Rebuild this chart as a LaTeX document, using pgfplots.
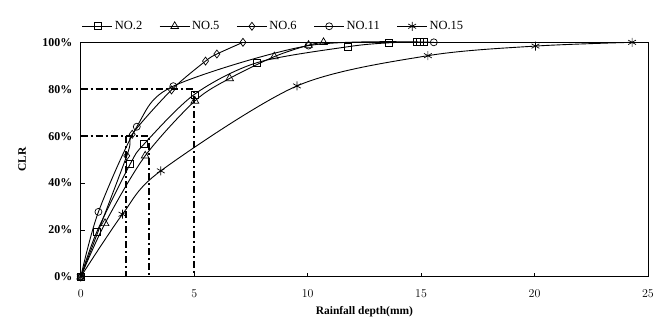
\documentclass[border=0pt]{standalone}
\usepackage{fontspec}
\setmainfont{Liberation Serif}
\usepackage{pgfplots}
\pgfplotsset{compat=1.18}
\begin{document}
\begin{tikzpicture}
\begin{axis}[
  scale only axis,
  width=567bp, height=234.4bp,
  xmin=0, xmax=25, ymin=0, ymax=100,
  axis x line*=bottom, axis y line*=left,
  axis line style={line width=1.1pt, -},
  xtick={0,5,10,15,20,25},
  ytick={0,20,40,60,80,100},
  yticklabels={0\%,20\%,40\%,60\%,80\%,100\%},
  tick align=inside,
  major tick length=4bp,
  tick style={black, line width=0.8pt},
  ticklabel style={font=\fontsize{12}{14}\selectfont\bfseries},
  xticklabel style={yshift=-9bp},
  yticklabel style={xshift=-5bp},
  xlabel={Rainfall depth(mm)},
  ylabel={CLR},
  label style={font=\fontsize{11.5}{13}\selectfont\bfseries},
  xlabel style={at={(axis description cs:0.5,-0.1507)}, anchor=center},
  ylabel style={at={(axis description cs:-0.1035,0.5)}, anchor=center},
  legend columns=5,
  legend style={draw=none, fill=none, at={(0.34,1.0)}, anchor=south, yshift=7bp,
    font=\fontsize{12.5}{14}\selectfont, column sep=0bp,
    /tikz/every even column/.append style={column sep=15bp}},
  legend image code/.code={\draw[mark repeat=2,mark phase=2] plot coordinates {(0bp,0bp) (15bp,0bp) (30bp,0bp)};},
  every axis plot/.append style={black, line width=0.9pt, mark options={solid, fill=white, line width=0.7pt}},
  clip=false,
]
\addplot[smooth, tension=0.5, mark=square, mark size=3.5bp] coordinates {
 (0,0) (0.71,19.2) (2.18,48.1) (2.79,56.6) (5.01,77.8) (7.76,91.3) (11.76,98.1) (13.6,99.8) (14.8,100) (14.95,100) (15.1,100)};
\addlegendentry{NO.2}
\addplot[smooth, tension=0.5, mark=triangle, mark size=4.5bp] coordinates {
 (0,0) (1.07,22.8) (2.84,51.6) (5.03,75) (6.56,84.6) (8.53,93.9) (10.04,98.8) (10.7,100)};
\addlegendentry{NO.5}
\addplot[smooth, tension=0.5, mark=diamond, mark size=4bp] coordinates {
 (0,0) (2.03,51.6) (2.27,60.8) (4.0,79.7) (5.5,92) (6.0,95) (7.15,100)};
\addlegendentry{NO.6}
\addplot[smooth, tension=0.5, mark=o, mark size=3.5bp] coordinates {
 (0,0) (0.78,27.7) (2.47,64) (4.08,81.3) (10.04,98.6) (15.56,100)};
\addlegendentry{NO.11}
\addplot[smooth, tension=0.5, mark=asterisk, mark size=4.5bp] coordinates {
 (0,0) (1.84,26.7) (3.53,45.2) (9.53,81.4) (15.3,94.3) (20.04,98.4) (24.3,100)};
\addlegendentry{NO.15}
\addplot[forget plot, no marks, line width=1.6pt, dash pattern=on 7bp off 3bp on 2bp off 3bp] coordinates {(0,80) (5,80) (5,0)};
\addplot[forget plot, no marks, line width=1.6pt, dash pattern=on 7bp off 3bp on 2bp off 3bp] coordinates {(0,60) (3,60) (3,0)};
\addplot[forget plot, no marks, line width=1.6pt, dash pattern=on 7bp off 3bp on 2bp off 3bp] coordinates {(2,60) (2,0)};
\draw[line width=0.6pt] (rel axis cs:0,1) -- (rel axis cs:1,1) -- (rel axis cs:1,0);
\coordinate (SW) at (rel axis cs:0,0);
\coordinate (NE) at (rel axis cs:1,1);
\end{axis}
\pgfresetboundingbox
\path[use as bounding box] ([shift={(-80.7bp,-52.3bp)}]SW) rectangle ([shift={(23bp,42.3bp)}]NE);
\end{tikzpicture}
\end{document}
